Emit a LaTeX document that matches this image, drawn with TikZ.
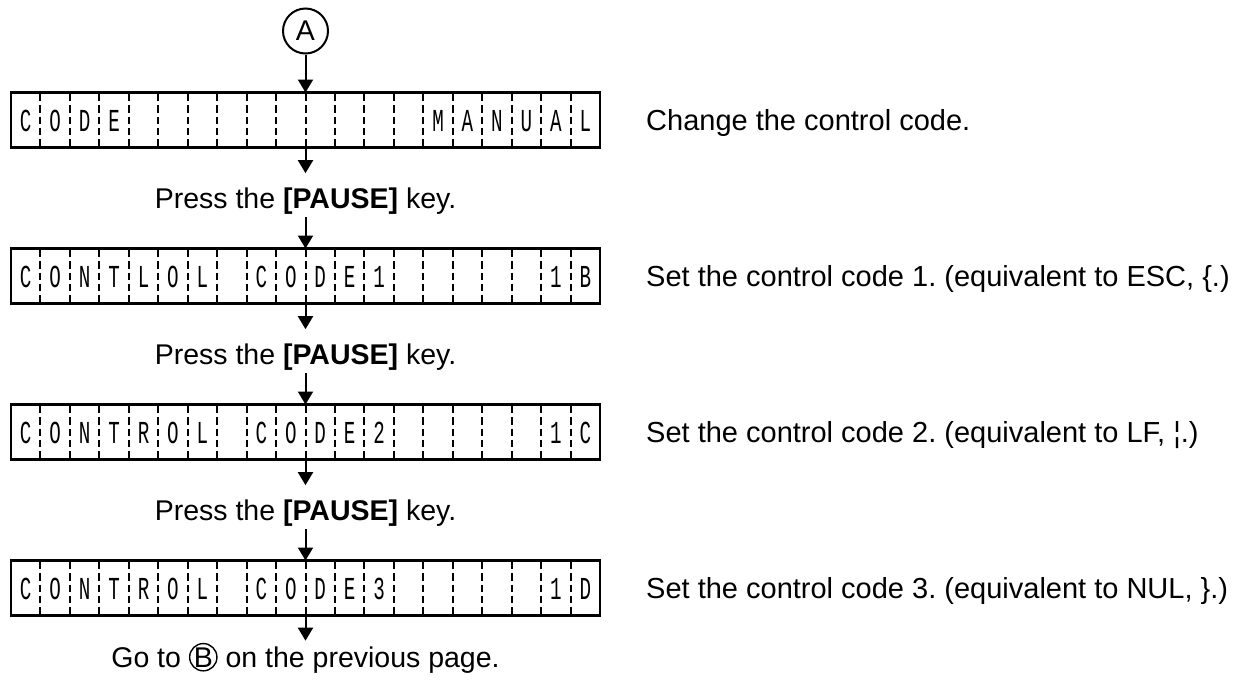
\documentclass[tikz,border=0pt]{standalone}
\usepackage{fontspec}
\setmainfont{Liberation Sans}
\newfontfamily\lcdfont{Liberation Mono}
\usepackage{graphicx}
\usetikzlibrary{arrows.meta,positioning}

\newcommand{\lcdch}[1]{\scalebox{0.6}[1]{#1}}
\newcommand{\encircled}[1]{\tikz[baseline=(encl.base)]\node[draw, circle, line width=1.4pt, inner sep=0pt, anchor=center] (encl) {#1};}

\begin{document}
\frenchspacing
\begin{tikzpicture}
[
    x=1pt, y=-1pt,
    every node/.style={font=\fontsize{28.5}{34}\selectfont},
    lcd/.style={draw, line width=2.5pt, minimum width=589pt, minimum height=55pt, outer sep=0pt, inner sep=0pt},
    cellsep/.style={line width=2pt, dash pattern=on 8.5pt off 4pt on 7.5pt off 4pt on 7pt off 4pt on 7.5pt off 4pt on 8.5pt off 20pt},
    lcdchar/.style={anchor=base, inner sep=0pt, font=\lcdfont\fontsize{32}{32}\selectfont},
    flow/.style={line width=2pt, -{Triangle[length=13pt,width=15pt]}},
    tokey/.style={flow, shorten >=12pt},
    keypress/.style={anchor=base, inner sep=2.5pt},
    note/.style={anchor=base west, inner sep=0pt, font=\fontsize{29}{34}\selectfont},
    connector/.style={draw, circle, line width=2pt, inner sep=1pt, minimum size=45pt}
]
    \useasboundingbox (0,0) rectangle (1247,686);

    \node [connector] (a) at (305.5,31) {A};

    \node [lcd] (d1) at (305.5,120) {};
    \node [lcd] (d2) at (305.5,276) {};
    \node [lcd] (d3) at (305.5,432) {};
    \node [lcd] (d4) at (305.5,588) {};

    \foreach \d in {d1,d2,d3,d4}
        \foreach \i in {1,...,19}
            \draw [cellsep] ([xshift=\i*29.45pt]\d.north west) -- ([xshift=\i*29.45pt]\d.south west);

    \foreach \k/\ch in {1/C,2/O,3/D,4/E,15/M,16/A,17/N,18/U,19/A,20/L}
        \node [lcdchar] (c1-\k) at ([xshift=(\k-0.5)*29.45pt, yshift=-11pt]d1.west) {\lcdch{\ch}};
    \foreach \k/\ch in {1/C,2/O,3/N,4/T,5/L,6/O,7/L,9/C,10/O,11/D,12/E,13/1,19/1,20/B}
        \node [lcdchar] (c2-\k) at ([xshift=(\k-0.5)*29.45pt, yshift=-11pt]d2.west) {\lcdch{\ch}};
    \foreach \k/\ch in {1/C,2/O,3/N,4/T,5/R,6/O,7/L,9/C,10/O,11/D,12/E,13/2,19/1,20/C}
        \node [lcdchar] (c3-\k) at ([xshift=(\k-0.5)*29.45pt, yshift=-11pt]d3.west) {\lcdch{\ch}};
    \foreach \k/\ch in {1/C,2/O,3/N,4/T,5/R,6/O,7/L,9/C,10/O,11/D,12/E,13/3,19/1,20/D}
        \node [lcdchar] (c4-\k) at ([xshift=(\k-0.5)*29.45pt, yshift=-11pt]d4.west) {\lcdch{\ch}};

    \node [keypress] (p1) at (305.5,208.5) {Press the \textbf{[PAUSE]} key.};
    \node [keypress] (p2) at (305.5,364.5) {Press the \textbf{[PAUSE]} key.};
    \node [keypress] (p3) at (305.5,520.5) {Press the \textbf{[PAUSE]} key.};
    \node [keypress, inner sep=2pt] (g) at (305.5,667) {Go to \encircled{B} on the previous page.};

    \draw [flow] (a) -- (d1);
    \draw [tokey] (d1) -- (p1);
    \draw [flow] (p1) -- (d2);
    \draw [tokey] (d2) -- (p2);
    \draw [flow] (p2) -- (d3);
    \draw [tokey] (d3) -- (p3);
    \draw [flow] (p3) -- (d4);
    \draw [flow] (d4) -- (g);

    \node [note] (n1) at (646,130) {Change the control code.};
    \node [note] (n2) at (646,286) {Set the control code 1. (equivalent to ESC, \{.)};
    \node [note] (n3) at (646,442) {Set the control code 2. (equivalent to LF, ¦.)};
    \node [note] (n4) at (646,598) {Set the control code 3. (equivalent to NUL, \}.)};
\end{tikzpicture}
\end{document}
